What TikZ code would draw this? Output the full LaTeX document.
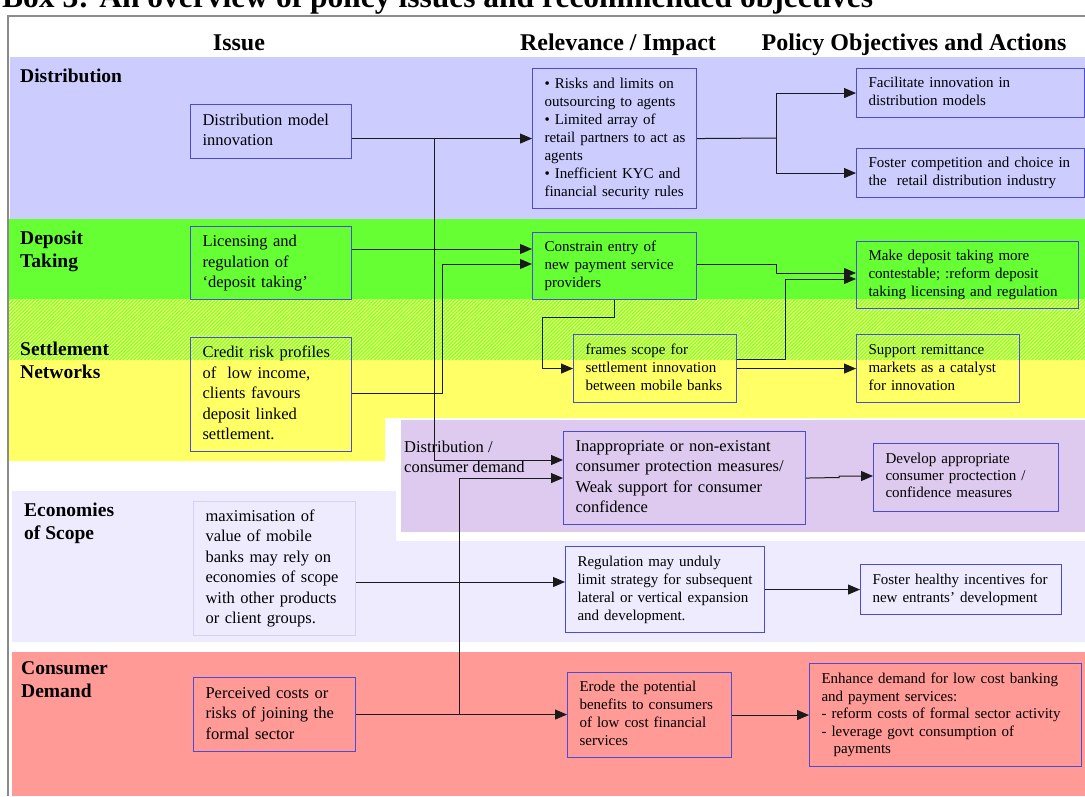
\documentclass[tikz,border=0pt]{standalone}
\usepackage{fontspec}
\setmainfont{Liberation Serif}
\usetikzlibrary{arrows.meta,patterns.meta}
\definecolor{distc}{HTML}{CCCCFF}
\definecolor{depc}{HTML}{66FF33}
\definecolor{yelc}{HTML}{FFFF66}
\definecolor{purc}{HTML}{DDCAEE}
\definecolor{econc}{HTML}{EEEBFE}
\definecolor{consc}{HTML}{FF9A96}
\definecolor{boxc}{HTML}{4B4BD8}
\definecolor{econbox}{HTML}{D4D0FA}
\definecolor{framec}{HTML}{8A8A8A}
\definecolor{linec}{HTML}{1A1A1A}
\newcommand{\mylines}[1]{\begin{tabular}{@{}l@{}}#1\end{tabular}}
\begin{document}
\begin{tikzpicture}[x=1pt,y=-1pt,
  sbox/.style={draw=boxc,line width=1.1pt,anchor=north west,inner xsep=12pt,inner ysep=0pt,align=left,font=\fontsize{15}{18}\selectfont},
  bbox/.style={sbox,font=\fontsize{16.5}{20.5}\selectfont},
  lab/.style={anchor=north west,inner sep=0pt,font=\fontsize{19.5}{23}\selectfont\bfseries},
  head/.style={anchor=base,inner sep=0pt,font=\fontsize{24}{28}\selectfont\bfseries},
  ln/.style={draw=linec,line width=1pt},
  arr/.style={ln,-{Triangle[length=12pt,width=10pt]}},
]
\useasboundingbox (0,0) rectangle (1085,796);

% ---------- bands ----------
\fill[distc] (10,57) rectangle (1085,219);
\fill[depc] (9,219) rectangle (1085,299);
\fill[depc!80!yelc] (9,299) rectangle (1085,360);
\fill[pattern={Lines[angle=45,distance=2.5pt,line width=0.9pt]},pattern color=yelc] (9,299) rectangle (1085,360);
\fill[yelc] (9,360) -- (1085,360) -- (1085,418) -- (385,418) -- (385,461) -- (9,461) -- cycle;
\fill[purc] (401,420) rectangle (1085,532);
\fill[econc] (12,491) -- (396,491) -- (396,541) -- (1085,541) -- (1085,642) -- (12,642) -- cycle;
\fill[consc] (12,652) rectangle (1085,796);
\draw[framec,line width=1.3pt] (8,796) -- (8,16) -- (1085,16);

% ---------- title and headers ----------
\node[anchor=base west,inner sep=0pt,font=\fontsize{31.5}{36}\selectfont\bfseries] (title) at (2,7) {Box 3: An overview of policy issues and recommended objectives};
\node[head] (h1) at (239,50) {Issue};
\node[head] (h2) at (618,50) {Relevance / Impact};
\node[head] (h3) at (914,50) {Policy Objectives and Actions};

% ---------- row labels ----------
\node[lab] (l1) at (20,66) {\mylines{Distribution}};
\node[lab] (l2) at (20,228) {\mylines{Deposit\\Taking}};
\node[lab] (l3) at (20,339) {\mylines{Settlement\\Networks}};
\node[lab] (l4) at (24,500) {\mylines{Economies\\of Scope}};
\node[lab] (l5) at (21,658) {\mylines{Consumer\\Demand}};
\node[anchor=north west,inner sep=0pt,font=\fontsize{16.5}{20}\selectfont] (dcd) at (404,438) {\mylines{Distribution /\\consumer demand}};

% ---------- issue column ----------
\node[bbox,minimum width=161pt,minimum height=54pt,text width=137pt] (dmi) at (190,104) {\mylines{Distribution model\\innovation}};
\node[bbox,minimum width=161pt,minimum height=73pt,text width=137pt] (lic) at (190,226) {\mylines{Licensing and\\regulation of\\‘deposit taking’}};
\node[bbox,minimum width=161pt,minimum height=114pt,text width=137pt] (cred) at (190,337) {\mylines{Credit risk profiles\\of\ \ low income,\\clients favours\\deposit linked\\settlement.}};
\node[bbox,draw=econbox,minimum width=162pt,minimum height=134pt,text width=138pt] (econ) at (193,501) {\mylines{maximisation of\\value of mobile\\banks may rely on\\economies of scope\\with other products\\or client groups.}};
\node[bbox,minimum width=162pt,minimum height=74pt,text width=138pt] (perc) at (193,677) {\mylines{Perceived costs or\\risks of joining the\\formal sector}};

% ---------- relevance column ----------
\node[sbox,minimum width=164pt,minimum height=140pt,text width=140pt] (risks) at (532,68) {\mylines{• Risks and limits on\\outsourcing to agents\\• Limited array of\\retail partners to act as\\agents\\• Inefficient KYC and\\financial security rules}};
\node[sbox,minimum width=164pt,minimum height=67pt,text width=140pt] (constrain) at (532,232) {\mylines{Constrain entry of\\new payment service\\providers}};
\node[sbox,minimum width=163pt,minimum height=68pt,text width=139pt] (frames) at (573,334) {\mylines{frames scope for\\settlement innovation\\between mobile banks}};
\node[bbox,minimum width=242pt,minimum height=93pt,text width=218pt] (inappr) at (563,431) {\mylines{Inappropriate or non-existant\\consumer protection measures/\\Weak support for consumer\\confidence}};
\node[sbox,minimum width=199pt,minimum height=86pt,text width=175pt] (reg) at (565,546) {\mylines{Regulation may unduly\\limit strategy for subsequent\\lateral or vertical expansion\\and development.}};
\node[sbox,minimum width=164pt,minimum height=85pt,text width=140pt] (erode) at (567,672) {\mylines{Erode the potential\\benefits to consumers\\of low cost financial\\services}};

% ---------- policy column ----------
\node[sbox,minimum width=228pt,minimum height=49pt,text width=204pt] (facil) at (856,68) {\mylines{Facilitate innovation in\\distribution models}};
\node[sbox,minimum width=228pt,minimum height=49pt,text width=204pt] (foster) at (856,148) {\mylines{Foster competition and choice in\\the\ \ retail distribution industry}};
\node[sbox,minimum width=222pt,minimum height=67pt,text width=198pt] (make) at (856,241) {\mylines{Make deposit taking more\\contestable; :reform deposit\\taking licensing and regulation}};
\node[sbox,minimum width=163pt,minimum height=68pt,text width=139pt] (support) at (856,334) {\mylines{Support remittance\\markets as a catalyst\\for innovation}};
\node[sbox,minimum width=185pt,minimum height=68pt,text width=161pt,font=\fontsize{15}{17}\selectfont] (develop) at (873,443) {\mylines{Develop appropriate\\consumer proctection /\\confidence measures}};
\node[sbox,minimum width=201pt,minimum height=50pt,text width=177pt] (fhealthy) at (860,564) {\mylines{Foster healthy incentives for\\new entrants’ development}};
\node[sbox,minimum width=272pt,minimum height=103pt,text width=248pt,font=\fontsize{15}{17.5}\selectfont] (enhance) at (809,663) {\mylines{Enhance demand for low cost banking\\and payment services:\\- reform costs of formal sector activity\\- leverage govt consumption of\\\hspace*{12pt}payments}};

% ---------- connectors ----------
\draw[arr] (dmi.east |- risks.west) -- (risks.west);
\coordinate (jd) at (434,138);
\draw[arr] (jd) |- (inappr.west |- 0,460);
\draw[arr] (lic.east |- 0,249) -- (constrain.west |- 0,249);
\draw[arr] (cred.east |- 0,393) -- (442,393) -- (442,264) -- (constrain.west |- 0,264);

\draw[ln] (risks.east) -- (776,138);
\coordinate (jr) at (776,138);
\draw[arr] (jr) |- (facil.west);
\draw[arr] (jr) |- (foster.west);

\draw[arr] (constrain.east |- 0,264) -- (776,264) -- (776,273) -- (make.west |- 0,273);
\draw[arr] (frames.east |- 0,359) -- (785,359) -- (785,279) -- (make.west |- 0,279);
\draw[arr] (constrain.south) |- (542,317) |- (frames.west);
\draw[arr] (frames.east) -- (support.west);

\draw[arr] (inappr.east) -- (839,477.5) -- (839,476) -- (develop.west |- 0,476);

\draw[arr] (econ.east |- 0,582) -- (reg.west |- 0,582);
\draw[arr] (reg.east) -- (fhealthy.west |- reg.east);

\draw[arr] (perc.east) -- (erode.west |- perc.east);
\coordinate (jp) at (459,714);
\draw[arr] (jp) |- (inappr.west);
\draw[arr] (erode.east) -- (enhance.west |- erode.east);
\end{tikzpicture}
\end{document}
